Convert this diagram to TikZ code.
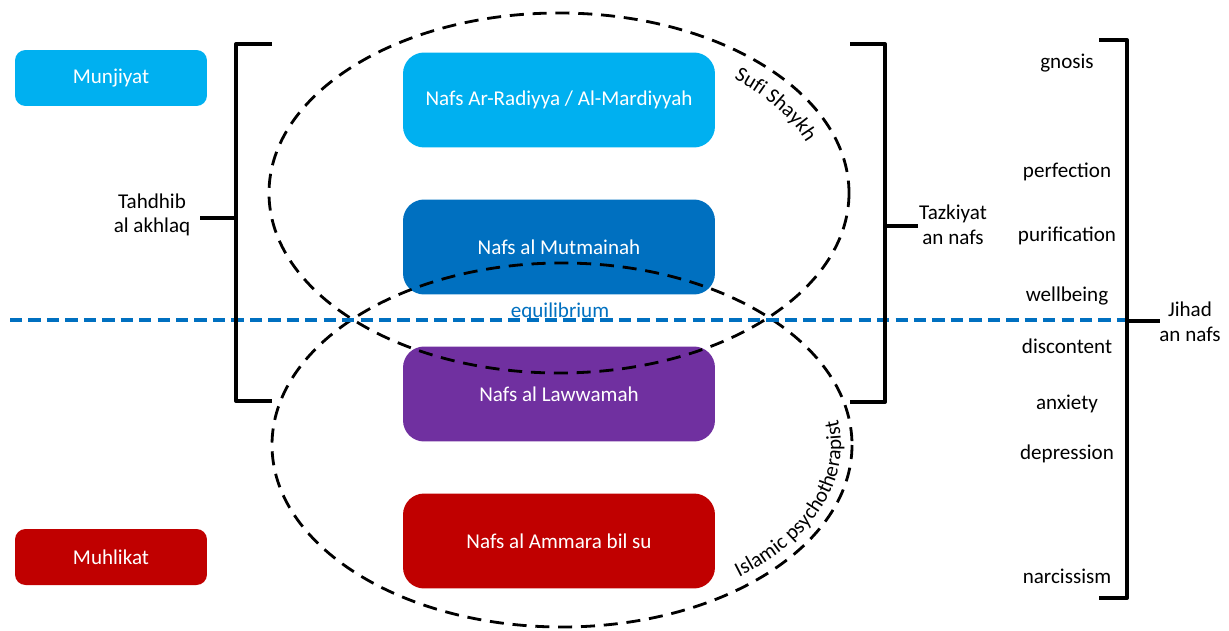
\documentclass[tikz,border=0pt]{standalone}
\usepackage{fontspec}
\setmainfont{Carlito}
\usetikzlibrary{decorations.text}
\definecolor{lightblue}{HTML}{00B0F0}
\definecolor{midblue}{HTML}{0070C0}
\definecolor{nafspurple}{HTML}{7030A0}
\definecolor{nafsred}{HTML}{C00000}

\begin{document}
\begin{tikzpicture}[x=0.02cm,y=-0.02cm]
\useasboundingbox (0,0) rectangle (1229,631);
\tikzstyle{nafs} = [rounded corners=12, minimum width=6.24cm, minimum height=1.9cm, text=white, font=\fontsize{12}{14}\selectfont];
\tikzstyle{group} = [rounded corners=6, minimum width=3.84cm, minimum height=1.12cm, text=white, font=\fontsize{12}{14}\selectfont];
\tikzstyle{word} = [font=\fontsize{12}{14}\selectfont, align=center];
\tikzstyle{bracket} = [line width=2.3pt, line join=round];
\tikzstyle{circle dash} = [line width=1.6pt, dash pattern=on 8pt off 5pt];
\tikzstyle{arc text} = [decorate, decoration={text along path, text align=center, text format delimiters={|}{|}}];
\node[group, fill=lightblue] (munj) at (111,78) {Munjiyat};
\node[group, fill=nafsred] (muhl) at (111,557) {Muhlikat};
\node[nafs, fill=lightblue] (n1) at (559,100) {Nafs Ar-Radiyya / Al-Mardiyyah};
\node[nafs, fill=midblue] (n2) at (559,247) {Nafs al Mutmainah};
\node[nafs, fill=nafspurple] (n3) at (559,394) {Nafs al Lawwamah};
\node[nafs, fill=nafsred] (n4) at (559,541) {Nafs al Ammara bil su};
%
\coordinate (uc) at (559,193);
\coordinate (lc) at (562,445);
\draw[circle dash] (uc) ellipse (290 and 180);
\draw[circle dash] (lc) ellipse (290 and 182);
\path[arc text, decoration={text={|\fontsize{12}{14}\selectfont|Sufi Shaykh}}]
  (uc) ++(-52:262 and 153) arc[start angle=-52, end angle=-14, x radius=262, y radius=153];
\path[arc text, decoration={text={|\fontsize{12}{14}\selectfont|Islamic psychotherapist}}]
  (lc) ++(56:279 and 171) arc[start angle=56, end angle=-16, x radius=279, y radius=171];
%
\coordinate (eqL) at (10,320);
\coordinate (eqR) at (1127,320);
\draw[midblue, line width=1.8pt, dash pattern=on 7pt off 3.5pt] (eqL) -- (eqR);
\node[word, text=midblue] (equi) at (560,312) {equilibrium};

\coordinate (lb1) at (272,44);
\coordinate (lb2) at (272,401);
\coordinate (lbm) at (236,218);
\coordinate (lbt) at (200,218);
\draw[bracket] (lb1) -- (236,44) -- (236,401) -- (lb2);
\draw[bracket] (lbm) -- (lbt);
\node[word] (tahd) at (152,215) {Tahdhib\\al akhlaq};

\coordinate (rb1) at (850,44);
\coordinate (rb2) at (850,402);
\coordinate (rbm) at (885,226);
\coordinate (rbt) at (918,226);
\draw[bracket] (rb1) -- (885,44) -- (885,402) -- (rb2);
\draw[bracket] (rbm) -- (rbt);
\node[word] (tazk) at (953,225) {Tazkiyat\\an nafs};

\coordinate (jb1) at (1099,40);
\coordinate (jb2) at (1099,598);
\coordinate (jbm) at (1127,321);
\coordinate (jbt) at (1160,321);
\draw[bracket] (jb1) -- (1127,40) -- (1127,598) -- (jb2);
\draw[bracket] (jbm) -- (jbt);
\node[word] (jihad) at (1190,322) {Jihad\\an nafs};

\node[word] (w1) at (1067,63) {gnosis};
\node[word] (w2) at (1067,172) {perfection};
\node[word] (w3) at (1067,236) {purification};
\node[word] (w4) at (1067,296) {wellbeing};
\node[word] (w5) at (1067,346) {discontent};
\node[word] (w6) at (1067,404) {anxiety};
\node[word] (w7) at (1067,454) {depression};
\node[word] (w8) at (1067,576) {narcissism};
\end{tikzpicture}
\end{document}
